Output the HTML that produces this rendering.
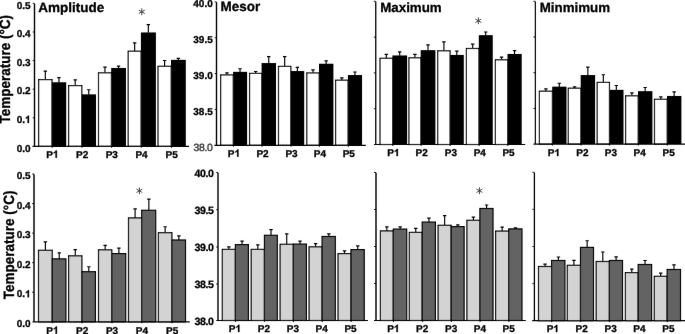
<!DOCTYPE html><html><head><meta charset="utf-8"><style>html,body{margin:0;padding:0;background:#fff}svg{display:block;will-change:transform}text{text-rendering:geometricPrecision;font-family:"Liberation Sans",sans-serif;font-weight:bold;fill:#000;stroke:#000;stroke-width:0.3px}</style></head><body>
<svg width="685" height="334" viewBox="0 0 685 334">
<defs><filter id="b" x="0" y="0" width="685" height="334" filterUnits="userSpaceOnUse"><feConvolveMatrix order="3" kernelMatrix="0.0016 0.037 0.0016 0.037 0.8456 0.037 0.0016 0.037 0.0016" edgeMode="duplicate" preserveAlpha="false"/></filter></defs>
<rect width="685" height="334" fill="#fff"/>
<g filter="url(#b)">
<g>
<path d="M45.32 79.6V70.8M43.62 71.1H47.02" stroke="#000" stroke-width="1.15" fill="none"/>
<rect x="38.65" y="79.6" width="13.35" height="66.8" fill="#fff" stroke="#000" stroke-width="1.2"/>
<path d="M58.95 82.6V77.3M57.25 77.6H60.65" stroke="#000" stroke-width="1.15" fill="none"/>
<rect x="51.8" y="82.25" width="14.4" height="64.15" fill="#000"/>
<path d="M52.2 146.4v1.4" stroke="#000" stroke-width="1" fill="none"/>
<text x="46.3" y="157.7" font-size="10">P</text>
<path transform="translate(52.97 157.7) scale(10 -10)" d="M.393 0H.256V.518Q.18 .447 .078 .412V.537Q.132 .555 .195 .604Q.259 .654 .282 .719H.393Z" fill="#000" stroke="#000" stroke-width="0.03"/>
<path d="M75.2 85.6V79.6M73.5 79.9H76.9" stroke="#000" stroke-width="1.15" fill="none"/>
<rect x="68.6" y="85.6" width="13.2" height="60.8" fill="#fff" stroke="#000" stroke-width="1.2"/>
<path d="M88.75 94.7V89.4M87.05 89.7H90.45" stroke="#000" stroke-width="1.15" fill="none"/>
<rect x="81.6" y="94.35" width="14.4" height="52.05" fill="#000"/>
<path d="M82 146.4v1.4" stroke="#000" stroke-width="1" fill="none"/>
<text x="76.1" y="157.7" font-size="10">P2</text>
<path d="M104.95 72.8V66.8M103.25 67.1H106.65" stroke="#000" stroke-width="1.15" fill="none"/>
<rect x="98.5" y="72.8" width="12.9" height="73.6" fill="#fff" stroke="#000" stroke-width="1.2"/>
<path d="M118.53 68.3V65.8M116.83 66.1H120.23" stroke="#000" stroke-width="1.15" fill="none"/>
<rect x="111.2" y="67.95" width="14.77" height="78.45" fill="#000"/>
<path d="M111.6 146.4v1.4" stroke="#000" stroke-width="1" fill="none"/>
<text x="105.7" y="157.7" font-size="10">P3</text>
<path d="M134.65 51.2V42.6M132.95 42.9H136.35" stroke="#000" stroke-width="1.15" fill="none"/>
<rect x="128.2" y="51.2" width="12.9" height="95.2" fill="#fff" stroke="#000" stroke-width="1.2"/>
<path d="M148.35 32.8V24.3M146.65 24.6H150.05" stroke="#000" stroke-width="1.15" fill="none"/>
<rect x="140.9" y="32.45" width="15" height="113.95" fill="#000"/>
<path d="M141.3 146.4v1.4" stroke="#000" stroke-width="1" fill="none"/>
<text x="135.4" y="157.7" font-size="10">P4</text>
<path d="M164.6 66.3V60.2M162.9 60.5H166.3" stroke="#000" stroke-width="1.15" fill="none"/>
<rect x="158" y="66.3" width="13.2" height="80.1" fill="#fff" stroke="#000" stroke-width="1.2"/>
<path d="M178.35 60.2V58M176.65 58.3H180.05" stroke="#000" stroke-width="1.15" fill="none"/>
<rect x="171" y="59.85" width="14.8" height="86.55" fill="#000"/>
<path d="M171.4 146.4v1.4" stroke="#000" stroke-width="1" fill="none"/>
<text x="165.5" y="157.7" font-size="10">P5</text>
<path d="M34.5 3.6V146.4" stroke="#000" stroke-width="1.4" fill="none"/>
<path d="M32.5 146.4H189" stroke="#000" stroke-width="1.2" fill="none"/>
<path d="M32.7 3.4H34.5" stroke="#000" stroke-width="0.9" fill="none"/>
<text x="30.6" y="8.5" font-size="10" text-anchor="end" letter-spacing="0">0.5</text>
<path d="M32.7 32H34.5" stroke="#000" stroke-width="0.9" fill="none"/>
<text x="30.6" y="37.1" font-size="10" text-anchor="end" letter-spacing="0">0.4</text>
<path d="M32.7 60.6H34.5" stroke="#000" stroke-width="0.9" fill="none"/>
<text x="30.6" y="65.7" font-size="10" text-anchor="end" letter-spacing="0">0.3</text>
<path d="M32.7 89.2H34.5" stroke="#000" stroke-width="0.9" fill="none"/>
<text x="30.6" y="94.3" font-size="10" text-anchor="end" letter-spacing="0">0.2</text>
<path d="M32.7 117.8H34.5" stroke="#000" stroke-width="0.9" fill="none"/>
<text x="25.04" y="122.9" font-size="10" text-anchor="end">0.</text>
<path transform="translate(25.04 122.9) scale(10 -10)" d="M.393 0H.256V.518Q.18 .447 .078 .412V.537Q.132 .555 .195 .604Q.259 .654 .282 .719H.393Z" fill="#000" stroke="#000" stroke-width="0.03"/>
<text x="30.6" y="151.5" font-size="10" text-anchor="end" letter-spacing="0">0.0</text>
<text x="38.3" y="11.7" font-size="13.5">Amplitude</text>
<path d="M141.8 8.4L141.8 15.2M144.74 10.1L138.86 13.5M144.74 13.5L138.86 10.1" stroke="#333" stroke-width="0.9" fill="none"/>
<text transform="translate(10.3 123.6) rotate(-90) scale(1 1.1)" font-size="13.5">Temperature (°C)</text>
</g>
<g>
<path d="M226.96 74.9V72.5M225.26 72.8H228.66" stroke="#000" stroke-width="1.15" fill="none"/>
<rect x="220.66" y="74.9" width="12.6" height="70.4" fill="#fff" stroke="#000" stroke-width="1.2"/>
<path d="M240.03 72.2V68.4M238.33 68.7H241.73" stroke="#000" stroke-width="1.15" fill="none"/>
<rect x="233.06" y="71.85" width="14.04" height="73.45" fill="#000"/>
<path d="M233.46 145.3v1.4" stroke="#000" stroke-width="1" fill="none"/>
<text x="227.86" y="156.7" font-size="10">P</text>
<path transform="translate(234.53 156.7) scale(10 -10)" d="M.393 0H.256V.518Q.18 .447 .078 .412V.537Q.132 .555 .195 .604Q.259 .654 .282 .719H.393Z" fill="#000" stroke="#000" stroke-width="0.03"/>
<path d="M255.69 73.4V71.2M253.99 71.5H257.39" stroke="#000" stroke-width="1.15" fill="none"/>
<rect x="249.58" y="73.4" width="12.22" height="71.9" fill="#fff" stroke="#000" stroke-width="1.2"/>
<path d="M268.75 63.4V56.3M267.05 56.6H270.45" stroke="#000" stroke-width="1.15" fill="none"/>
<rect x="261.6" y="63.05" width="14.4" height="82.25" fill="#000"/>
<path d="M262 145.3v1.4" stroke="#000" stroke-width="1" fill="none"/>
<text x="256.4" y="156.7" font-size="10">P2</text>
<path d="M284.68 66.4V56.3M282.98 56.6H286.38" stroke="#000" stroke-width="1.15" fill="none"/>
<rect x="278.5" y="66.4" width="12.35" height="78.9" fill="#fff" stroke="#000" stroke-width="1.2"/>
<path d="M297.38 71.4V67.1M295.68 67.4H299.07" stroke="#000" stroke-width="1.15" fill="none"/>
<rect x="290.65" y="71.05" width="13.55" height="74.25" fill="#000"/>
<path d="M291.05 145.3v1.4" stroke="#000" stroke-width="1" fill="none"/>
<text x="285.45" y="156.7" font-size="10">P3</text>
<path d="M313 72.9V69.6M311.3 69.9H314.7" stroke="#000" stroke-width="1.15" fill="none"/>
<rect x="306.8" y="72.9" width="12.4" height="72.4" fill="#fff" stroke="#000" stroke-width="1.2"/>
<path d="M326.15 64.1V60.6M324.45 60.9H327.85" stroke="#000" stroke-width="1.15" fill="none"/>
<rect x="319" y="63.75" width="14.4" height="81.55" fill="#000"/>
<path d="M319.4 145.3v1.4" stroke="#000" stroke-width="1" fill="none"/>
<text x="313.8" y="156.7" font-size="10">P4</text>
<path d="M341.85 80.2V77.6M340.15 77.9H343.55" stroke="#000" stroke-width="1.15" fill="none"/>
<rect x="335.6" y="80.2" width="12.5" height="65.1" fill="#fff" stroke="#000" stroke-width="1.2"/>
<path d="M354.93 75.4V71.7M353.23 72H356.63" stroke="#000" stroke-width="1.15" fill="none"/>
<rect x="347.9" y="75.05" width="14.15" height="70.25" fill="#000"/>
<path d="M348.3 145.3v1.4" stroke="#000" stroke-width="1" fill="none"/>
<text x="342.7" y="156.7" font-size="10">P5</text>
<path d="M216.5 2.1V145.3" stroke="#000" stroke-width="1.4" fill="none"/>
<path d="M214.4 145.3H365.8" stroke="#000" stroke-width="1.2" fill="none"/>
<path d="M214.7 1.9H216.5" stroke="#000" stroke-width="0.9" fill="none"/>
<text x="213" y="7.3" font-size="10" text-anchor="end" letter-spacing="0.1">40.0</text>
<path d="M214.7 37.75H216.5" stroke="#000" stroke-width="0.9" fill="none"/>
<text x="213" y="43.15" font-size="10" text-anchor="end" letter-spacing="0.1">39.5</text>
<path d="M214.7 73.6H216.5" stroke="#000" stroke-width="0.9" fill="none"/>
<text x="213" y="79" font-size="10" text-anchor="end" letter-spacing="0.1">39.0</text>
<path d="M214.7 109.45H216.5" stroke="#000" stroke-width="0.9" fill="none"/>
<text x="213" y="114.85" font-size="10" text-anchor="end" letter-spacing="0.1">38.5</text>
<text x="212.5" y="150.85" font-size="10.4" text-anchor="end" style="font-weight:normal;fill:#383838;stroke:#383838;stroke-width:0.4px" letter-spacing="-0.3">38.0</text>
<text x="220.6" y="11.4" font-size="13.45">Mesor</text>
</g>
<g>
<path d="M386.3 58.3V54.1M384.6 54.4H388" stroke="#000" stroke-width="1.15" fill="none"/>
<rect x="380" y="58.3" width="12.6" height="86.2" fill="#fff" stroke="#000" stroke-width="1.2"/>
<path d="M399.7 55.8V51.5M398 51.8H401.4" stroke="#000" stroke-width="1.15" fill="none"/>
<rect x="392.4" y="55.45" width="14.7" height="89.05" fill="#000"/>
<path d="M392.8 144.5v1.4" stroke="#000" stroke-width="1" fill="none"/>
<text x="387.3" y="156.1" font-size="10">P</text>
<path transform="translate(393.97 156.1) scale(10 -10)" d="M.393 0H.256V.518Q.18 .447 .078 .412V.537Q.132 .555 .195 .604Q.259 .654 .282 .719H.393Z" fill="#000" stroke="#000" stroke-width="0.03"/>
<path d="M414.9 57.8V54.1M413.2 54.4H416.6" stroke="#000" stroke-width="1.15" fill="none"/>
<rect x="408.9" y="57.8" width="12" height="86.7" fill="#fff" stroke="#000" stroke-width="1.2"/>
<path d="M428 50.5V44.5M426.3 44.8H429.7" stroke="#000" stroke-width="1.15" fill="none"/>
<rect x="420.7" y="50.15" width="14.7" height="94.35" fill="#000"/>
<path d="M421.1 144.5v1.4" stroke="#000" stroke-width="1" fill="none"/>
<text x="415.6" y="156.1" font-size="10">P2</text>
<path d="M443.9 50.8V41.5M442.2 41.8H445.6" stroke="#000" stroke-width="1.15" fill="none"/>
<rect x="437.7" y="50.8" width="12.4" height="93.7" fill="#fff" stroke="#000" stroke-width="1.2"/>
<path d="M456.8 55.3V50.8M455.1 51.1H458.5" stroke="#000" stroke-width="1.15" fill="none"/>
<rect x="449.9" y="54.95" width="13.9" height="89.55" fill="#000"/>
<path d="M450.3 144.5v1.4" stroke="#000" stroke-width="1" fill="none"/>
<text x="444.8" y="156.1" font-size="10">P3</text>
<path d="M472.7 48.5V43.8M471 44.1H474.4" stroke="#000" stroke-width="1.15" fill="none"/>
<rect x="466.4" y="48.5" width="12.6" height="96" fill="#fff" stroke="#000" stroke-width="1.2"/>
<path d="M485.73 35.5V31.7M484.03 32H487.43" stroke="#000" stroke-width="1.15" fill="none"/>
<rect x="478.8" y="35.15" width="13.95" height="109.35" fill="#000"/>
<path d="M479.2 144.5v1.4" stroke="#000" stroke-width="1" fill="none"/>
<text x="473.7" y="156.1" font-size="10">P4</text>
<path d="M501.55 59.8V56.8M499.85 57.1H503.25" stroke="#000" stroke-width="1.15" fill="none"/>
<rect x="495.4" y="59.8" width="12.3" height="84.7" fill="#fff" stroke="#000" stroke-width="1.2"/>
<path d="M514.55 54.3V50.3M512.85 50.6H516.25" stroke="#000" stroke-width="1.15" fill="none"/>
<rect x="507.5" y="53.95" width="14.2" height="90.55" fill="#000"/>
<path d="M507.9 144.5v1.4" stroke="#000" stroke-width="1" fill="none"/>
<text x="502.4" y="156.1" font-size="10">P5</text>
<path d="M375.75 1.5V144.5" stroke="#000" stroke-width="1.3" fill="none"/>
<path d="M374.1 144.5H525.2" stroke="#000" stroke-width="1.2" fill="none"/>
<path d="M373.8 1.3H375.75" stroke="#000" stroke-width="0.9" fill="none"/>
<path d="M373.8 37.1H375.75" stroke="#000" stroke-width="0.9" fill="none"/>
<path d="M373.8 72.9H375.75" stroke="#000" stroke-width="0.9" fill="none"/>
<path d="M373.8 108.7H375.75" stroke="#000" stroke-width="0.9" fill="none"/>
<text x="380.2" y="11.5" font-size="13.35">Maximum</text>
<path d="M478.35 17.4L478.35 24.2M481.29 19.1L475.41 22.5M481.29 22.5L475.41 19.1" stroke="#333" stroke-width="0.9" fill="none"/>
</g>
<g>
<path d="M545.9 91.2V88.5M544.2 88.8H547.6" stroke="#000" stroke-width="1.15" fill="none"/>
<rect x="539.4" y="91.2" width="13" height="52.9" fill="#fff" stroke="#000" stroke-width="1.2"/>
<path d="M559.3 87V82.9M557.6 83.2H561" stroke="#000" stroke-width="1.15" fill="none"/>
<rect x="552.2" y="86.65" width="14.3" height="57.45" fill="#000"/>
<path d="M552.6 144.1v1.4" stroke="#000" stroke-width="1" fill="none"/>
<text x="547.8" y="156.1" font-size="10">P</text>
<path transform="translate(554.47 156.1) scale(10 -10)" d="M.393 0H.256V.518Q.18 .447 .078 .412V.537Q.132 .555 .195 .604Q.259 .654 .282 .719H.393Z" fill="#000" stroke="#000" stroke-width="0.03"/>
<path d="M574.6 88.2V86.5M572.9 86.8H576.3" stroke="#000" stroke-width="1.15" fill="none"/>
<rect x="568.3" y="88.2" width="12.6" height="55.9" fill="#fff" stroke="#000" stroke-width="1.2"/>
<path d="M587.85 75.4V66.8M586.15 67.1H589.55" stroke="#000" stroke-width="1.15" fill="none"/>
<rect x="580.7" y="75.05" width="14.4" height="69.05" fill="#000"/>
<path d="M581.1 144.1v1.4" stroke="#000" stroke-width="1" fill="none"/>
<text x="576.3" y="156.1" font-size="10">P2</text>
<path d="M603.33 82.4V74.4M601.62 74.7H605.03" stroke="#000" stroke-width="1.15" fill="none"/>
<rect x="597.2" y="82.4" width="12.25" height="61.7" fill="#fff" stroke="#000" stroke-width="1.2"/>
<path d="M616.33 90.2V85.2M614.62 85.5H618.03" stroke="#000" stroke-width="1.15" fill="none"/>
<rect x="609.25" y="89.85" width="14.25" height="54.25" fill="#000"/>
<path d="M609.65 144.1v1.4" stroke="#000" stroke-width="1" fill="none"/>
<text x="604.85" y="156.1" font-size="10">P3</text>
<path d="M631.9 95.8V92.5M630.2 92.8H633.6" stroke="#000" stroke-width="1.15" fill="none"/>
<rect x="625.6" y="95.8" width="12.6" height="48.3" fill="#fff" stroke="#000" stroke-width="1.2"/>
<path d="M645.15 91.5V87.2M643.45 87.5H646.85" stroke="#000" stroke-width="1.15" fill="none"/>
<rect x="638" y="91.15" width="14.4" height="52.95" fill="#000"/>
<path d="M638.4 144.1v1.4" stroke="#000" stroke-width="1" fill="none"/>
<text x="633.6" y="156.1" font-size="10">P4</text>
<path d="M660.85 99.3V96.5M659.15 96.8H662.55" stroke="#000" stroke-width="1.15" fill="none"/>
<rect x="654.5" y="99.3" width="12.7" height="44.8" fill="#fff" stroke="#000" stroke-width="1.2"/>
<path d="M674.15 96.3V91.5M672.45 91.8H675.85" stroke="#000" stroke-width="1.15" fill="none"/>
<rect x="667" y="95.95" width="14.4" height="48.15" fill="#000"/>
<path d="M667.4 144.1v1.4" stroke="#000" stroke-width="1" fill="none"/>
<text x="662.6" y="156.1" font-size="10">P5</text>
<path d="M535.35 1.5V144.1" stroke="#000" stroke-width="1.2" fill="none"/>
<path d="M533.5 144.1H685" stroke="#000" stroke-width="1.2" fill="none"/>
<path d="M533.45 1.3H535.35" stroke="#000" stroke-width="0.9" fill="none"/>
<path d="M533.45 37H535.35" stroke="#000" stroke-width="0.9" fill="none"/>
<path d="M533.45 72.7H535.35" stroke="#000" stroke-width="0.9" fill="none"/>
<path d="M533.45 108.4H535.35" stroke="#000" stroke-width="0.9" fill="none"/>
<text x="539.8" y="11.5" font-size="13.3">Minmimum</text>
</g>
<g>
<path d="M45.38 250.3V241.5M43.67 241.8H47.08" stroke="#000" stroke-width="1.15" fill="none"/>
<rect x="38.5" y="250.3" width="13.75" height="71.5" fill="#d3d3d3" stroke="#000" stroke-width="1.2"/>
<path d="M59.23 258.9V252.6M57.52 252.9H60.93" stroke="#000" stroke-width="1.15" fill="none"/>
<rect x="52.25" y="258.9" width="13.65" height="62.9" fill="#646464" stroke="#000" stroke-width="1.2"/>
<path d="M52.45 321.8v1.4" stroke="#000" stroke-width="1" fill="none"/>
<text x="46.35" y="333.7" font-size="10">P</text>
<path transform="translate(53.02 333.7) scale(10 -10)" d="M.393 0H.256V.518Q.18 .447 .078 .412V.537Q.132 .555 .195 .604Q.259 .654 .282 .719H.393Z" fill="#000" stroke="#000" stroke-width="0.03"/>
<path d="M75.25 255.8V249.3M73.55 249.6H76.95" stroke="#000" stroke-width="1.15" fill="none"/>
<rect x="68.6" y="255.8" width="13.3" height="66" fill="#d3d3d3" stroke="#000" stroke-width="1.2"/>
<path d="M88.8 271.7V266.4M87.1 266.7H90.5" stroke="#000" stroke-width="1.15" fill="none"/>
<rect x="81.9" y="271.7" width="13.5" height="50.1" fill="#646464" stroke="#000" stroke-width="1.2"/>
<path d="M82.1 321.8v1.4" stroke="#000" stroke-width="1" fill="none"/>
<text x="76" y="333.7" font-size="10">P2</text>
<path d="M105.15 249.8V245M103.45 245.3H106.85" stroke="#000" stroke-width="1.15" fill="none"/>
<rect x="98.5" y="249.8" width="13.3" height="72" fill="#d3d3d3" stroke="#000" stroke-width="1.2"/>
<path d="M118.9 253.6V247.8M117.2 248.1H120.6" stroke="#000" stroke-width="1.15" fill="none"/>
<rect x="111.8" y="253.6" width="13.9" height="68.2" fill="#646464" stroke="#000" stroke-width="1.2"/>
<path d="M112 321.8v1.4" stroke="#000" stroke-width="1" fill="none"/>
<text x="105.9" y="333.7" font-size="10">P3</text>
<path d="M135.1 217.9V208.6M133.4 208.9H136.8" stroke="#000" stroke-width="1.15" fill="none"/>
<rect x="128.5" y="217.9" width="13.2" height="103.9" fill="#d3d3d3" stroke="#000" stroke-width="1.2"/>
<path d="M148.85 210.3V198.8M147.15 199.1H150.55" stroke="#000" stroke-width="1.15" fill="none"/>
<rect x="141.7" y="210.3" width="14" height="111.5" fill="#646464" stroke="#000" stroke-width="1.2"/>
<path d="M141.9 321.8v1.4" stroke="#000" stroke-width="1" fill="none"/>
<text x="135.8" y="333.7" font-size="10">P4</text>
<path d="M165.15 232.7V226.4M163.45 226.7H166.85" stroke="#000" stroke-width="1.15" fill="none"/>
<rect x="158.4" y="232.7" width="13.5" height="89.1" fill="#d3d3d3" stroke="#000" stroke-width="1.2"/>
<path d="M178.85 240V235.5M177.15 235.8H180.55" stroke="#000" stroke-width="1.15" fill="none"/>
<rect x="171.9" y="240" width="13.6" height="81.8" fill="#646464" stroke="#000" stroke-width="1.2"/>
<path d="M172.1 321.8v1.4" stroke="#000" stroke-width="1" fill="none"/>
<text x="166" y="333.7" font-size="10">P5</text>
<path d="M34 174.2V321.8" stroke="#000" stroke-width="1.45" fill="none"/>
<path d="M32.5 321.8H189.8" stroke="#000" stroke-width="1.2" fill="none"/>
<path d="M32.17 174H34" stroke="#000" stroke-width="0.9" fill="none"/>
<text x="30.6" y="179.1" font-size="10" text-anchor="end" letter-spacing="0">0.5</text>
<path d="M32.17 203.56H34" stroke="#000" stroke-width="0.9" fill="none"/>
<text x="30.6" y="208.66" font-size="10" text-anchor="end" letter-spacing="0">0.4</text>
<path d="M32.17 233.12H34" stroke="#000" stroke-width="0.9" fill="none"/>
<text x="30.6" y="238.22" font-size="10" text-anchor="end" letter-spacing="0">0.3</text>
<path d="M32.17 262.68H34" stroke="#000" stroke-width="0.9" fill="none"/>
<text x="30.6" y="267.78" font-size="10" text-anchor="end" letter-spacing="0">0.2</text>
<path d="M32.17 292.24H34" stroke="#000" stroke-width="0.9" fill="none"/>
<text x="25.04" y="297.34" font-size="10" text-anchor="end">0.</text>
<path transform="translate(25.04 297.34) scale(10 -10)" d="M.393 0H.256V.518Q.18 .447 .078 .412V.537Q.132 .555 .195 .604Q.259 .654 .282 .719H.393Z" fill="#000" stroke="#000" stroke-width="0.03"/>
<text x="30.6" y="326.9" font-size="10" text-anchor="end" letter-spacing="0">0.0</text>
<path d="M139.4 187.4L139.4 194.2M142.34 189.1L136.46 192.5M142.34 192.5L136.46 189.1" stroke="#333" stroke-width="0.9" fill="none"/>
<text transform="translate(13.5 299.2) rotate(-90) scale(1 1.1)" font-size="13.5">Temperature (°C)</text>
</g>
<g>
<path d="M228.85 249.4V246.6M227.15 246.9H230.55" stroke="#000" stroke-width="1.15" fill="none"/>
<rect x="222.3" y="249.4" width="13.1" height="71.1" fill="#d3d3d3" stroke="#000" stroke-width="1.2"/>
<path d="M242.05 244.6V240.8M240.35 241.1H243.75" stroke="#000" stroke-width="1.15" fill="none"/>
<rect x="235.4" y="244.6" width="13" height="75.9" fill="#646464" stroke="#000" stroke-width="1.2"/>
<path d="M235.6 320.5v1.4" stroke="#000" stroke-width="1" fill="none"/>
<text x="228.8" y="332" font-size="10">P</text>
<path transform="translate(235.47 332) scale(10 -10)" d="M.393 0H.256V.518Q.18 .447 .078 .412V.537Q.132 .555 .195 .604Q.259 .654 .282 .719H.393Z" fill="#000" stroke="#000" stroke-width="0.03"/>
<path d="M257.82 249.4V244.6M256.12 244.9H259.52" stroke="#000" stroke-width="1.15" fill="none"/>
<rect x="251.2" y="249.4" width="13.25" height="71.1" fill="#d3d3d3" stroke="#000" stroke-width="1.2"/>
<path d="M271.02 235.3V229.3M269.32 229.6H272.72" stroke="#000" stroke-width="1.15" fill="none"/>
<rect x="264.45" y="235.3" width="12.85" height="85.2" fill="#646464" stroke="#000" stroke-width="1.2"/>
<path d="M264.65 320.5v1.4" stroke="#000" stroke-width="1" fill="none"/>
<text x="257.85" y="332" font-size="10">P2</text>
<path d="M286.73 244.3V233.5M285.03 233.8H288.43" stroke="#000" stroke-width="1.15" fill="none"/>
<rect x="280.1" y="244.3" width="13.25" height="76.2" fill="#d3d3d3" stroke="#000" stroke-width="1.2"/>
<path d="M300.03 244.1V240.8M298.33 241.1H301.73" stroke="#000" stroke-width="1.15" fill="none"/>
<rect x="293.35" y="244.1" width="13.05" height="76.4" fill="#646464" stroke="#000" stroke-width="1.2"/>
<path d="M293.55 320.5v1.4" stroke="#000" stroke-width="1" fill="none"/>
<text x="286.75" y="332" font-size="10">P3</text>
<path d="M315.6 246.8V243.3M313.9 243.6H317.3" stroke="#000" stroke-width="1.15" fill="none"/>
<rect x="309.1" y="246.8" width="13" height="73.7" fill="#d3d3d3" stroke="#000" stroke-width="1.2"/>
<path d="M328.85 236.5V233.5M327.15 233.8H330.55" stroke="#000" stroke-width="1.15" fill="none"/>
<rect x="322.1" y="236.5" width="13.2" height="84" fill="#646464" stroke="#000" stroke-width="1.2"/>
<path d="M322.3 320.5v1.4" stroke="#000" stroke-width="1" fill="none"/>
<text x="315.5" y="332" font-size="10">P4</text>
<path d="M344.5 253.6V250.6M342.8 250.9H346.2" stroke="#000" stroke-width="1.15" fill="none"/>
<rect x="338" y="253.6" width="13" height="66.9" fill="#d3d3d3" stroke="#000" stroke-width="1.2"/>
<path d="M357.75 249.6V245.6M356.05 245.9H359.45" stroke="#000" stroke-width="1.15" fill="none"/>
<rect x="351" y="249.6" width="13.2" height="70.9" fill="#646464" stroke="#000" stroke-width="1.2"/>
<path d="M351.2 320.5v1.4" stroke="#000" stroke-width="1" fill="none"/>
<text x="344.4" y="332" font-size="10">P5</text>
<path d="M218 172.7V320.5" stroke="#000" stroke-width="1.4" fill="none"/>
<path d="M216.3 320.5H368" stroke="#000" stroke-width="1.2" fill="none"/>
<path d="M216.2 172.5H218" stroke="#000" stroke-width="0.9" fill="none"/>
<text x="213.65" y="176.9" font-size="10.6" text-anchor="end" letter-spacing="-0.35">40.0</text>
<path d="M216.2 209.7H218" stroke="#000" stroke-width="0.9" fill="none"/>
<text x="213.65" y="214.1" font-size="10.6" text-anchor="end" letter-spacing="-0.35">39.5</text>
<path d="M216.2 247H218" stroke="#000" stroke-width="0.9" fill="none"/>
<text x="213.65" y="251.4" font-size="10.6" text-anchor="end" letter-spacing="-0.35">39.0</text>
<path d="M216.2 284H218" stroke="#000" stroke-width="0.9" fill="none"/>
<text x="213.65" y="288.4" font-size="10.6" text-anchor="end" letter-spacing="-0.35">38.5</text>
<text x="213.65" y="324.9" font-size="10.6" text-anchor="end" letter-spacing="-0.35">38.0</text>
</g>
<g>
<path d="M386.85 230.9V226.6M385.15 226.9H388.55" stroke="#000" stroke-width="1.15" fill="none"/>
<rect x="380.4" y="230.9" width="12.9" height="89.6" fill="#d3d3d3" stroke="#000" stroke-width="1.2"/>
<path d="M400.15 229.1V226.6M398.45 226.9H401.85" stroke="#000" stroke-width="1.15" fill="none"/>
<rect x="393.3" y="229.1" width="13.4" height="91.4" fill="#646464" stroke="#000" stroke-width="1.2"/>
<path d="M393.5 320.5v1.4" stroke="#000" stroke-width="1" fill="none"/>
<text x="387.2" y="332" font-size="10">P</text>
<path transform="translate(393.87 332) scale(10 -10)" d="M.393 0H.256V.518Q.18 .447 .078 .412V.537Q.132 .555 .195 .604Q.259 .654 .282 .719H.393Z" fill="#000" stroke="#000" stroke-width="0.03"/>
<path d="M415.75 232.4V228.1M414.05 228.4H417.45" stroke="#000" stroke-width="1.15" fill="none"/>
<rect x="409.3" y="232.4" width="12.9" height="88.1" fill="#d3d3d3" stroke="#000" stroke-width="1.2"/>
<path d="M428.95 222.1V217.8M427.25 218.1H430.65" stroke="#000" stroke-width="1.15" fill="none"/>
<rect x="422.2" y="222.1" width="13.2" height="98.4" fill="#646464" stroke="#000" stroke-width="1.2"/>
<path d="M422.4 320.5v1.4" stroke="#000" stroke-width="1" fill="none"/>
<text x="416.1" y="332" font-size="10">P2</text>
<path d="M444.65 225.3V215.3M442.95 215.6H446.35" stroke="#000" stroke-width="1.15" fill="none"/>
<rect x="438.1" y="225.3" width="13.1" height="95.2" fill="#d3d3d3" stroke="#000" stroke-width="1.2"/>
<path d="M457.8 226.6V224.6M456.1 224.9H459.5" stroke="#000" stroke-width="1.15" fill="none"/>
<rect x="451.2" y="226.6" width="12.9" height="93.9" fill="#646464" stroke="#000" stroke-width="1.2"/>
<path d="M451.4 320.5v1.4" stroke="#000" stroke-width="1" fill="none"/>
<text x="445.1" y="332" font-size="10">P3</text>
<path d="M473.4 220.3V216.8M471.7 217.1H475.1" stroke="#000" stroke-width="1.15" fill="none"/>
<rect x="466.9" y="220.3" width="13" height="100.2" fill="#d3d3d3" stroke="#000" stroke-width="1.2"/>
<path d="M486.6 208.5V204.7M484.9 205H488.3" stroke="#000" stroke-width="1.15" fill="none"/>
<rect x="479.9" y="208.5" width="13.1" height="112" fill="#646464" stroke="#000" stroke-width="1.2"/>
<path d="M480.1 320.5v1.4" stroke="#000" stroke-width="1" fill="none"/>
<text x="473.8" y="332" font-size="10">P4</text>
<path d="M502.15 231.1V226.8M500.45 227.1H503.85" stroke="#000" stroke-width="1.15" fill="none"/>
<rect x="495.6" y="231.1" width="13.1" height="89.4" fill="#d3d3d3" stroke="#000" stroke-width="1.2"/>
<path d="M515.48 228.9V227.6M513.77 227.9H517.18" stroke="#000" stroke-width="1.15" fill="none"/>
<rect x="508.7" y="228.9" width="13.25" height="91.6" fill="#646464" stroke="#000" stroke-width="1.2"/>
<path d="M508.9 320.5v1.4" stroke="#000" stroke-width="1" fill="none"/>
<text x="502.6" y="332" font-size="10">P5</text>
<path d="M376 172.7V320.5" stroke="#000" stroke-width="1.45" fill="none"/>
<path d="M374 320.5H525.8" stroke="#000" stroke-width="1.2" fill="none"/>
<path d="M373.97 172.5H376" stroke="#000" stroke-width="0.9" fill="none"/>
<path d="M373.97 209.5H376" stroke="#000" stroke-width="0.9" fill="none"/>
<path d="M373.97 246.5H376" stroke="#000" stroke-width="0.9" fill="none"/>
<path d="M373.97 283.5H376" stroke="#000" stroke-width="0.9" fill="none"/>
<path d="M479.45 187.35L479.45 194.15M482.39 189.05L476.51 192.45M482.39 192.45L476.51 189.05" stroke="#333" stroke-width="0.9" fill="none"/>
</g>
<g>
<path d="M545.05 266.5V263.8M543.35 264.1H546.75" stroke="#000" stroke-width="1.15" fill="none"/>
<rect x="538.5" y="266.5" width="13.1" height="54.2" fill="#d3d3d3" stroke="#000" stroke-width="1.2"/>
<path d="M558.4 260.5V256.7M556.7 257H560.1" stroke="#000" stroke-width="1.15" fill="none"/>
<rect x="551.6" y="260.5" width="13.3" height="60.2" fill="#646464" stroke="#000" stroke-width="1.2"/>
<path d="M551.8 320.7v1.4" stroke="#000" stroke-width="1" fill="none"/>
<text x="546.7" y="332.1" font-size="10">P</text>
<path transform="translate(553.37 332.1) scale(10 -10)" d="M.393 0H.256V.518Q.18 .447 .078 .412V.537Q.132 .555 .195 .604Q.259 .654 .282 .719H.393Z" fill="#000" stroke="#000" stroke-width="0.03"/>
<path d="M573.9 265.3V260M572.2 260.3H575.6" stroke="#000" stroke-width="1.15" fill="none"/>
<rect x="567.3" y="265.3" width="13.2" height="55.4" fill="#d3d3d3" stroke="#000" stroke-width="1.2"/>
<path d="M587.15 247.4V240.4M585.45 240.7H588.85" stroke="#000" stroke-width="1.15" fill="none"/>
<rect x="580.5" y="247.4" width="13" height="73.3" fill="#646464" stroke="#000" stroke-width="1.2"/>
<path d="M580.7 320.7v1.4" stroke="#000" stroke-width="1" fill="none"/>
<text x="575.6" y="332.1" font-size="10">P2</text>
<path d="M602.8 261.5V251.7M601.1 252H604.5" stroke="#000" stroke-width="1.15" fill="none"/>
<rect x="596.2" y="261.5" width="13.2" height="59.2" fill="#d3d3d3" stroke="#000" stroke-width="1.2"/>
<path d="M616.1 260.5V256.5M614.4 256.8H617.8" stroke="#000" stroke-width="1.15" fill="none"/>
<rect x="609.4" y="260.5" width="13.1" height="60.2" fill="#646464" stroke="#000" stroke-width="1.2"/>
<path d="M609.6 320.7v1.4" stroke="#000" stroke-width="1" fill="none"/>
<text x="604.5" y="332.1" font-size="10">P3</text>
<path d="M631.8 272.6V268.8M630.1 269.1H633.5" stroke="#000" stroke-width="1.15" fill="none"/>
<rect x="625.4" y="272.6" width="12.8" height="48.1" fill="#d3d3d3" stroke="#000" stroke-width="1.2"/>
<path d="M645.05 264.5V260.2M643.35 260.5H646.75" stroke="#000" stroke-width="1.15" fill="none"/>
<rect x="638.2" y="264.5" width="13.4" height="56.2" fill="#646464" stroke="#000" stroke-width="1.2"/>
<path d="M638.4 320.7v1.4" stroke="#000" stroke-width="1" fill="none"/>
<text x="633.3" y="332.1" font-size="10">P4</text>
<path d="M660.72 276.3V272.8M659.02 273.1H662.42" stroke="#000" stroke-width="1.15" fill="none"/>
<rect x="654.3" y="276.3" width="12.85" height="44.4" fill="#d3d3d3" stroke="#000" stroke-width="1.2"/>
<path d="M673.98 269.5V264.5M672.27 264.8H675.68" stroke="#000" stroke-width="1.15" fill="none"/>
<rect x="667.15" y="269.5" width="13.35" height="51.2" fill="#646464" stroke="#000" stroke-width="1.2"/>
<path d="M667.35 320.7v1.4" stroke="#000" stroke-width="1" fill="none"/>
<text x="662.25" y="332.1" font-size="10">P5</text>
<path d="M534.4 172.5V320.7" stroke="#000" stroke-width="1.3" fill="none"/>
<path d="M532.2 320.7H685" stroke="#000" stroke-width="1.2" fill="none"/>
<path d="M532.45 172.3H534.4" stroke="#000" stroke-width="0.9" fill="none"/>
<path d="M532.45 209.4H534.4" stroke="#000" stroke-width="0.9" fill="none"/>
<path d="M532.45 246.5H534.4" stroke="#000" stroke-width="0.9" fill="none"/>
<path d="M532.45 283.6H534.4" stroke="#000" stroke-width="0.9" fill="none"/>
</g>
</g></svg></body></html>
